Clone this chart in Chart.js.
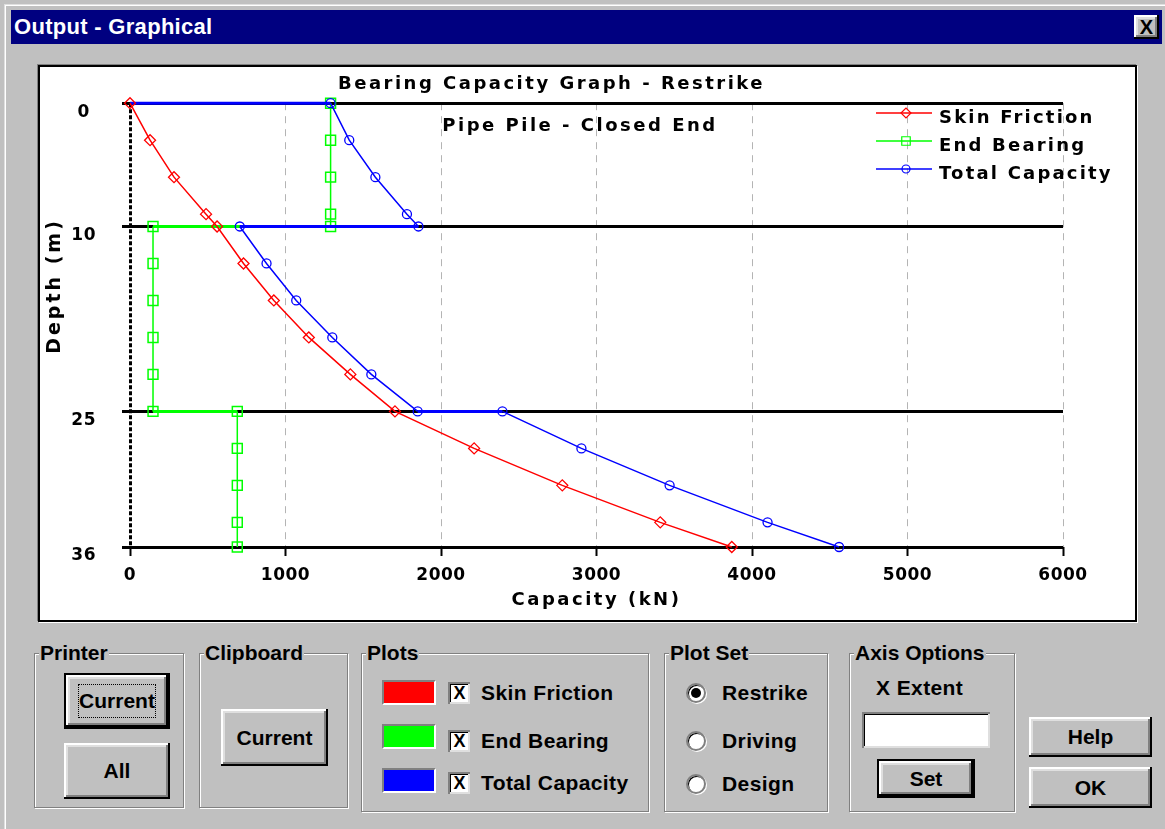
<!DOCTYPE html>
<html>
<head>
<meta charset="utf-8">
<script src="https://cdn.jsdelivr.net/npm/chart.js@4.4.1/dist/chart.umd.min.js"></script>
<style>
  html, body { margin:0; padding:0; }
  body { width:1165px; height:829px; background:#c0c0c0; position:relative; overflow:hidden;
         font-family:"Liberation Sans", Arial, sans-serif; }
  .abs { position:absolute; }
  #frame { left:4px; top:4px; width:1170px; height:840px; border-left:1px solid #dfdfdf; border-top:1px solid #dfdfdf;
           box-shadow: inset 1px 1px 0 #fff; }
  #titlebar { left:11px; top:10px; width:1151px; height:34px; background:#000080; }
  #titletext { left:14px; top:10px; height:34px; line-height:34px; color:#fff; font-weight:bold; font-size:22px; letter-spacing:0.3px; }
  .btn { position:absolute; background:#c0c0c0; box-sizing:border-box;
         box-shadow: inset -2px -2px 0 #000, inset 2px 2px 0 #fff, inset -4px -4px 0 #808080, inset 4px 4px 0 #dfdfdf;
         display:flex; align-items:center; justify-content:center; font-weight:bold; font-size:21px; color:#000; }
  .btn.def { border:2px solid #000; }
  #panel { left:38px; top:65px; width:1095px; height:553px; border:2px solid #000; background:#fff;
           box-shadow: 1px 1px 0 0 #fff, -1px -1px 0 0 #808080; }
  #panel canvas { position:absolute; left:0; top:0; }
  .grp { position:absolute; box-sizing:border-box; border:1px solid #808080;
         box-shadow: 1px 1px 0 0 #fff, inset 1px 1px 0 0 #fff; }
  .glabel { position:absolute; top:-13px; left:4px; height:24px; line-height:24px; background:#c0c0c0;
            padding:0 1px; font-weight:bold; font-size:21px; }
  .txt { position:absolute; height:26px; line-height:26px; font-weight:bold; font-size:21px; letter-spacing:0.4px; white-space:nowrap; }
  .swatch { position:absolute; width:54px; height:25px; box-sizing:border-box;
            border-top:2px solid #808080; border-left:2px solid #808080; border-bottom:2px solid #fff; border-right:2px solid #fff; }
  .chk { position:absolute; width:22px; height:22px; box-sizing:border-box; background:#fff;
         box-shadow: inset 2px 2px 0 #808080, inset -2px -2px 0 #dfdfdf, inset 3px 3px 0 #000;
         font-weight:bold; font-size:18px; line-height:23px; text-align:center; padding-left:1px; }
  .radio { position:absolute; width:20px; height:20px; box-sizing:border-box; border-radius:50%; background:#fff;
           border:2px solid #808080; box-shadow: inset 1px 1px 0 #000, 1px 1px 0 #fff; }
  .radio.on::after { content:""; position:absolute; left:3px; top:3px; width:10px; height:10px; border-radius:50%; background:#000; }
  #input { left:862px; top:712px; width:128px; height:36px; box-sizing:border-box; background:#fff;
           box-shadow: inset 2px 2px 0 #808080, inset -2px -2px 0 #dfdfdf, inset 3px 3px 0 #000; }
  .focus { position:absolute; left:12px; top:9px; right:12px; bottom:9px; border:1px dotted #000; }
</style>
</head>
<body>
<div id="frame" class="abs"></div>
<div id="titlebar" class="abs"></div>
<div id="titletext" class="abs">Output - Graphical</div>
<div class="btn" style="left:1134px;top:15px;width:25px;height:24px;font-size:20px;">X</div>

<div id="panel" class="abs"><canvas id="c" width="1095" height="553"></canvas></div>

<div class="grp" style="left:34px;top:653px;width:150px;height:155px;"><span class="glabel">Printer</span></div>
<div class="btn def" style="left:64px;top:673px;width:106px;height:56px;"><div class="focus"></div>Current</div>
<div class="btn" style="left:64px;top:743px;width:106px;height:56px;">All</div>

<div class="grp" style="left:199px;top:653px;width:149px;height:155px;"><span class="glabel">Clipboard</span></div>
<div class="btn" style="left:221px;top:709px;width:107px;height:57px;">Current</div>

<div class="grp" style="left:361px;top:653px;width:288px;height:159px;"><span class="glabel">Plots</span></div>
<div class="swatch" style="left:382px;top:680px;background:#ff0000;"></div>
<div class="swatch" style="left:382px;top:724px;background:#00ff00;"></div>
<div class="swatch" style="left:382px;top:768px;background:#0000ff;"></div>
<div class="chk" style="left:448px;top:682px;">X</div>
<div class="chk" style="left:448px;top:730px;">X</div>
<div class="chk" style="left:448px;top:772px;">X</div>
<div class="txt" style="left:481px;top:680px;">Skin Friction</div>
<div class="txt" style="left:481px;top:728px;">End Bearing</div>
<div class="txt" style="left:481px;top:770px;">Total Capacity</div>

<div class="grp" style="left:664px;top:653px;width:164px;height:159px;"><span class="glabel">Plot Set</span></div>
<div class="radio on" style="left:686px;top:683px;"></div>
<div class="radio" style="left:686px;top:731px;"></div>
<div class="radio" style="left:686px;top:774px;"></div>
<div class="txt" style="left:722px;top:680px;">Restrike</div>
<div class="txt" style="left:722px;top:728px;">Driving</div>
<div class="txt" style="left:722px;top:771px;">Design</div>

<div class="grp" style="left:849px;top:653px;width:166px;height:159px;"><span class="glabel">Axis Options</span></div>
<div class="txt" style="left:876px;top:675px;">X Extent</div>
<div id="input" class="abs"></div>
<div class="btn def" style="left:877px;top:759px;width:98px;height:39px;">Set</div>

<div class="btn" style="left:1029px;top:717px;width:123px;height:40px;">Help</div>
<div class="btn" style="left:1029px;top:767px;width:123px;height:41px;">OK</div>

<script>
// ---- data ----
const chartTitle = 'Bearing Capacity Graph - Restrike';
const chartSubtitle = 'Pipe Pile - Closed End';
const xTitle = 'Capacity (kN)';
const yTitle = 'Depth (m)';
const seriesNames = ['Skin Friction', 'End Bearing', 'Total Capacity'];
const layerDepths = [0, 10, 25, 36];            // depth ticks (m)
const capacityTicks = [0, 1000, 2000, 3000, 4000, 5000, 6000];

const skinDepth    = [0, 3, 6, 9, 10, 13, 16, 19, 22, 25, 28, 31, 34, 36];
const skinFriction = [0, 129, 283, 489, 560, 730, 925, 1150, 1417, 1704, 2213, 2780, 3410, 3870];

const bearingDepth = [0, 3, 6, 9, 10, 10, 13, 16, 19, 22, 25, 25, 28, 31, 34, 36];
const endBearing   = [1290, 1290, 1290, 1290, 1290, 148, 148, 148, 148, 148, 148, 690, 690, 690, 690, 690];

const totalDepth    = [0, 0, 3, 6, 9, 10, 10, 13, 16, 19, 22, 25, 25, 28, 31, 34, 36];
const totalCapacity = [0, 1290, 1410, 1578, 1781, 1855, 706, 878, 1069, 1301, 1552, 1850, 2395, 2903, 3470, 4100, 4560];

// ---- chart ----
const FONT = '"DejaVu Sans", Verdana, sans-serif';
const toPts = (xs, ys) => xs.map((v, i) => ({x: v, y: ys[i]}));
const segW = c => (c.p0.parsed.y === c.p1.parsed.y ? 3 : 1.5);

const decor = {
  id: 'decor',
  beforeUpdate(chart) { chart.ctx.letterSpacing = '0.5px'; },
  beforeDraw(chart) { chart.ctx.letterSpacing = '2.5px'; },
  afterDatasetsDraw(chart) { chart.ctx.letterSpacing = '0.5px'; },
  afterDraw(chart) {
    const ctx = chart.ctx;
    ctx.save();
    ctx.fillStyle = '#000';
    ctx.textAlign = 'center';
    ctx.textBaseline = 'middle';
    ctx.letterSpacing = '2.5px';
    ctx.font = 'bold 18px ' + FONT;
    ctx.fillText(chartSubtitle, 540, 59);
    // y axis title
    ctx.save();
    ctx.translate(15, 219);
    ctx.rotate(-Math.PI / 2);
    ctx.font = 'bold 19px ' + FONT;
    ctx.letterSpacing = '3px';
    ctx.fillText(yTitle, 0, 0);
    ctx.restore();
    // legend (inside plot, top right)
    ctx.letterSpacing = '2.2px';
    ctx.font = 'bold 18px ' + FONT;
    ctx.textAlign = 'left';
    chart.data.datasets.forEach((ds, i) => {
      const y = 46 + i * 28;
      ctx.strokeStyle = ds.borderColor;
      ctx.lineWidth = 1.5;
      ctx.beginPath(); ctx.moveTo(836, y); ctx.lineTo(892, y); ctx.stroke();
      ctx.fillStyle = 'rgba(0,0,0,0)';
      ctx.lineWidth = 1.2;
      Chart.helpers.drawPoint(ctx, {pointStyle: ds.pointStyle, radius: ds.legendRadius, borderWidth: 1.2, rotation: 0}, 866, y);
      ctx.fillStyle = '#000';
      ctx.fillText(ds.label, 899, y + 5);
    });
    ctx.restore();
  }
};

new Chart(document.getElementById('c'), {
  type: 'scatter',
  data: {
    datasets: [
      { label: seriesNames[0], data: toPts(skinFriction, skinDepth), showLine: true,
        borderColor: '#ff0000', backgroundColor: 'rgba(0,0,0,0)', borderWidth: 1.5,
        pointStyle: 'rectRot', pointRadius: 5.5, pointBorderWidth: 1.3, pointBorderColor: '#ff0000',
        pointBackgroundColor: 'rgba(0,0,0,0)', legendRadius: 5, order: 1, clip: false,
        segment: { borderWidth: segW } },
      { label: seriesNames[1], data: toPts(endBearing, bearingDepth), showLine: true,
        borderColor: '#00ff00', backgroundColor: 'rgba(0,0,0,0)', borderWidth: 1.5,
        pointStyle: 'rect', pointRadius: 7, pointBorderWidth: 1.5, pointBorderColor: '#00ff00',
        pointBackgroundColor: 'rgba(0,0,0,0)', legendRadius: 6, order: 3, clip: false,
        segment: { borderWidth: segW } },
      { label: seriesNames[2], data: toPts(totalCapacity, totalDepth), showLine: true,
        borderColor: '#0000ff', backgroundColor: 'rgba(0,0,0,0)', borderWidth: 1.5,
        pointStyle: 'circle', pointRadius: c => (c.dataIndex === 0 ? 0 : 4.5), pointBorderWidth: 1.3,
        pointBorderColor: '#0000ff', pointBackgroundColor: 'rgba(0,0,0,0)', legendRadius: 4, order: 2, clip: false,
        segment: { borderWidth: segW } }
    ]
  },
  options: {
    responsive: false,
    animation: false,
    devicePixelRatio: 1,
    layout: { padding: { left: 0, right: 72, top: 0, bottom: 0 } },
    plugins: {
      legend: { display: false },
      tooltip: { enabled: false },
      title: { display: true, text: chartTitle, color: '#000',
               font: { family: FONT, size: 18, weight: 'bold' }, padding: { top: 5, bottom: 8.5 } }
    },
    scales: {
      x: {
        type: 'linear', min: capacityTicks[0], max: capacityTicks[capacityTicks.length - 1],
        afterBuildTicks: s => { s.ticks = capacityTicks.map(v => ({ value: v })); },
        ticks: { color: '#000', font: { family: FONT, size: 17, weight: 'bold' }, padding: 9, maxRotation: 0,
                 autoSkip: false, z: 1, callback: v => String(v) },
        grid: {
          color: c => (c.tick && c.tick.value === 0 ? '#000' : '#b4b4b4'),
          lineWidth: c => (c.tick && c.tick.value === 0 ? 3 : 1),
          drawTicks: true, tickLength: 9, tickWidth: 2, tickColor: '#000'
        },
        border: { display: false, dash: c => (c.tick && c.tick.value === 0 ? [4, 2] : [7, 6]) },
        title: { display: true, text: xTitle, color: '#000', font: { family: FONT, size: 18, weight: 'bold' },
                 padding: { top: 0, bottom: 9 } },
        afterFit: s => { s.height = 73; }
      },
      y: {
        type: 'linear', min: layerDepths[0], max: layerDepths[layerDepths.length - 1], reverse: true,
        afterBuildTicks: s => { s.ticks = layerDepths.map(v => ({ value: v })); },
        ticks: { color: '#000', font: { family: FONT, size: 17, weight: 'bold' }, labelOffset: 9,
                 crossAlign: 'center', padding: 26, autoSkip: false, z: 1, callback: v => String(v) },
        grid: { color: '#000', lineWidth: 3, drawTicks: true, tickLength: 8, tickWidth: 3, tickColor: '#000' },
        border: { display: false },
        afterFit: s => { s.width = 90; }
      }
    }
  },
  plugins: [decor]
});
</script>
</body>
</html>
